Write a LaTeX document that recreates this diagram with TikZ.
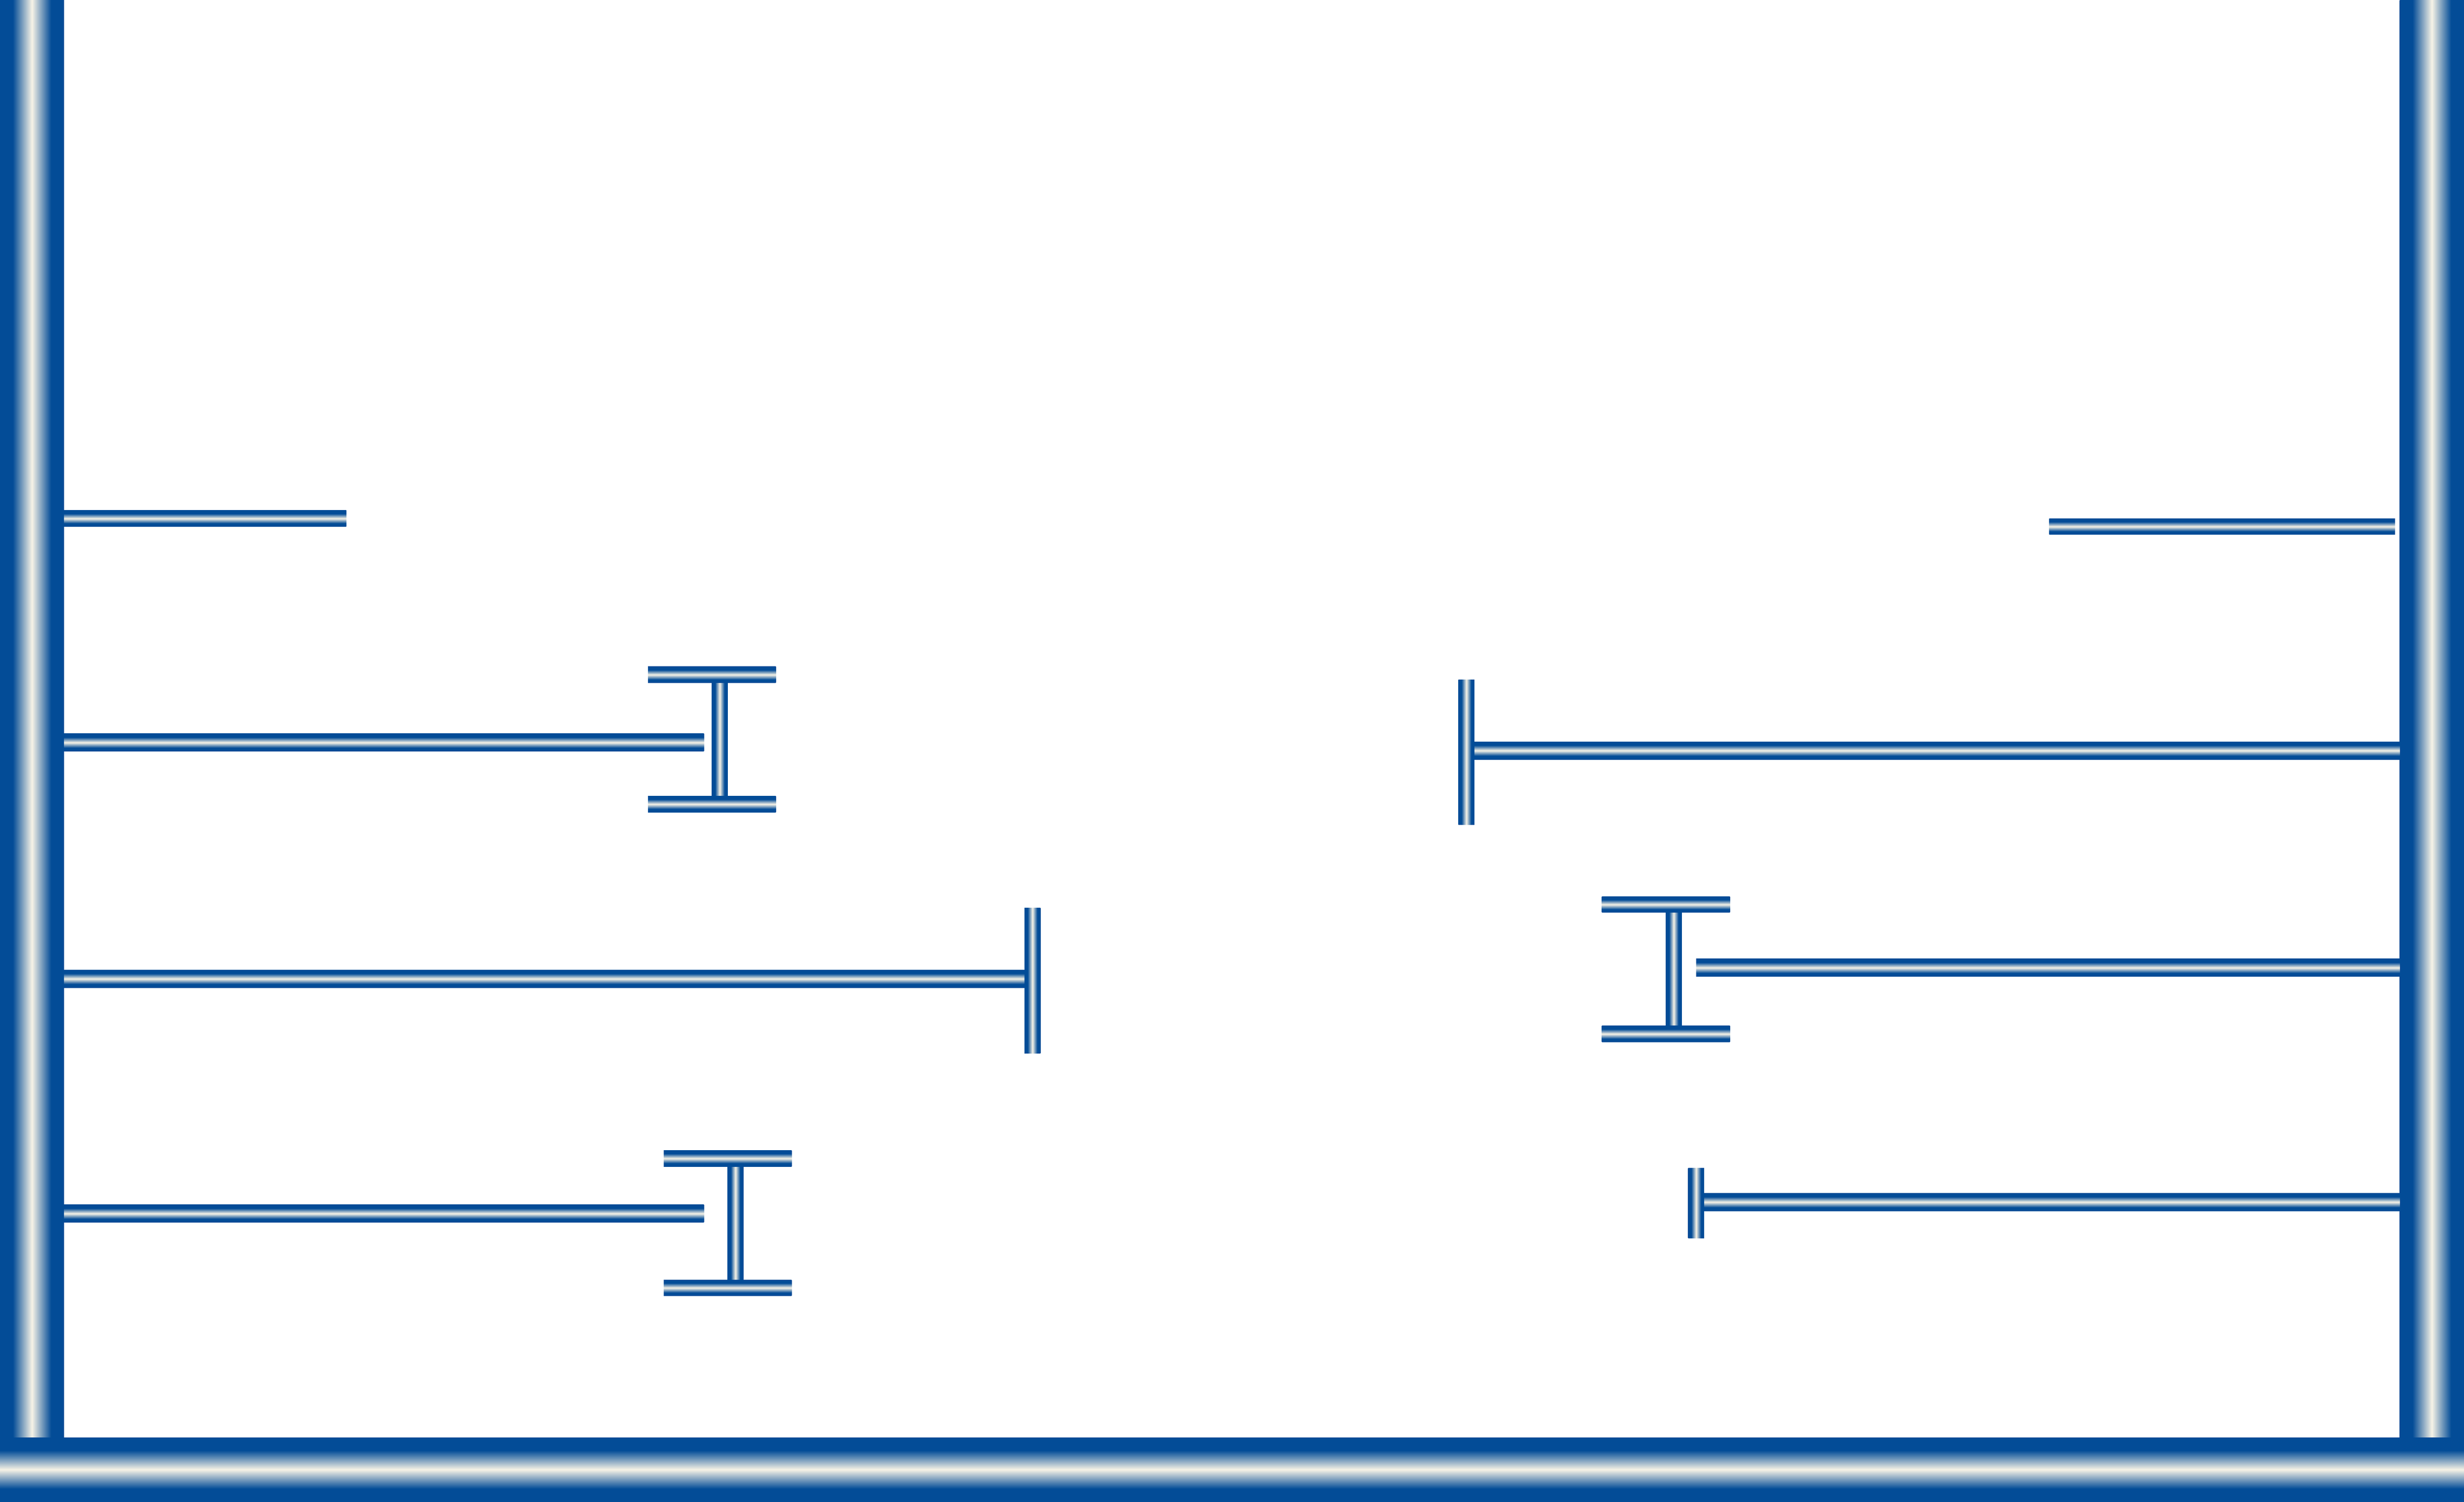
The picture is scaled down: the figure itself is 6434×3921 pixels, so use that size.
\documentclass[tikz,border=0pt]{standalone}
\definecolor{pipeblue}{RGB}{3,76,151}
\definecolor{pipecream}{RGB}{247,243,230}
\pgfdeclareverticalshading{pipeh}{100bp}{color(0bp)=(pipeblue); color(35bp)=(pipeblue); color(50bp)=(pipecream); color(65bp)=(pipeblue); color(100bp)=(pipeblue)}
\pgfdeclarehorizontalshading{pipev}{100bp}{color(0bp)=(pipeblue); color(35bp)=(pipeblue); color(50bp)=(pipecream); color(65bp)=(pipeblue); color(100bp)=(pipeblue)}
\tikzset{hpipe/.style={shading=pipeh}, vpipe/.style={shading=pipev}}
\begin{document}
\begin{tikzpicture}[x=0.01cm, y=-0.01cm]
\useasboundingbox (0,0) rectangle (6434,3921);
% walls and floor
\shade[vpipe] (0,0) rectangle (167,3754);
\shade[vpipe] (6266,0) rectangle (6434,3754);
\shade[hpipe] (0,3754) rectangle (6434,3921);

% left side
\shade[hpipe] (167,1333) rectangle (904,1375);
\shade[hpipe] (167,1916) rectangle (1838,1962);
\shade[hpipe] (167,2533) rectangle (2675,2579);
\shade[vpipe] (2675,2371) rectangle (2717,2750);
\shade[hpipe] (167,3146) rectangle (1838,3192);

% right side
\shade[hpipe] (5351,1354) rectangle (6254,1396);
\shade[hpipe] (3850,1937) rectangle (6266,1983);
\shade[vpipe] (3808,1775) rectangle (3850,2154);
\shade[hpipe] (4429,2504) rectangle (6266,2550);
\shade[hpipe] (4450,3116) rectangle (6266,3162);
\shade[vpipe] (4408,3050) rectangle (4450,3233);

% I-beams
\foreach \x/\y in {1692/1741, 1733/3004, 4183/2341}
{
  \shade[vpipe] (\x+167,\y) rectangle (\x+208,\y+380);
  \shade[hpipe] (\x,\y) rectangle (\x+334,\y+42);
  \shade[hpipe] (\x,\y+338) rectangle (\x+334,\y+380);
}

\end{tikzpicture}
\end{document}
